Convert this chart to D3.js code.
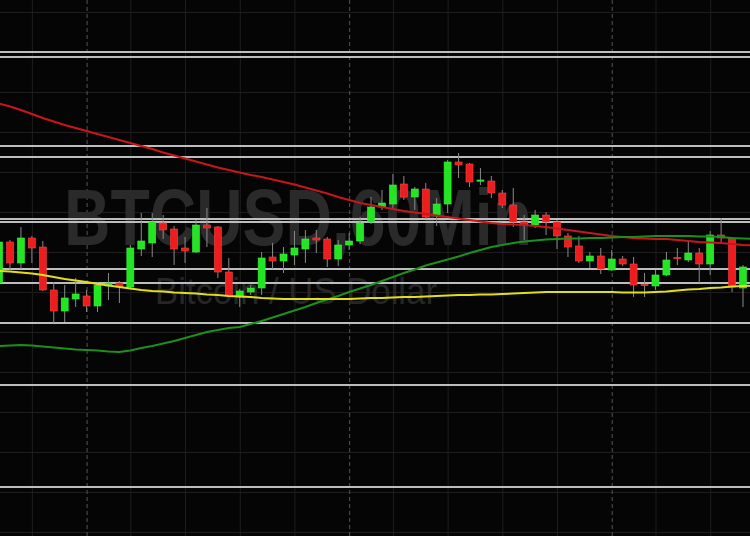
<!DOCTYPE html>
<html><head><meta charset="utf-8">
<script src="https://cdn.jsdelivr.net/npm/d3@7"></script>
<style>html,body{margin:0;padding:0;background:#050505;overflow:hidden}</style>
</head><body><svg id="c" width="750" height="536"></svg>
<script>
// ---- data ----
const startTime = "2020-06-09T16:00:00Z"; // first hourly candle
const opens = [9364.5,9385,9374.5,9387,9382.5,9361,9350.5,9356.5,9358,9353,
 9363,9364.5,9362.5,9381.5,9384.5,9394.5,9391.5,9382,9380,9393.5,
 9392.5,9370,9357.5,9360,9362,9377.5,9375.5,9378.5,9381.5,9387,
 9386.5,9376.5,9383.5,9385.5,9395,9402.5,9404,9414,9407.5,9411.5,
 9398,9404,9425,9424,9415.5,9415.5,9409.5,9403.5,9395,9393.5,
 9398.5,9395,9388,9383,9375.5,9378,9371,9376.5,9374,9363.8,
 9363,9368.5,9377.3,9376,9379.5,9374,9388.5,9387,9362];
const highs = [9386,9386,9392.5,9388,9385.5,9365,9363.5,9367,9361,9365,
 9369.5,9365.5,9383.5,9399.5,9399.5,9398.5,9393,9387.5,9396,9402,
 9393,9377,9361.5,9363.5,9380,9384.5,9382.5,9390.5,9391,9391,
 9387.5,9386,9389.5,9397.5,9407.5,9411,9419,9418,9412.5,9414.5,
 9407,9426,9429.5,9424.5,9422,9418,9411,9412,9398.5,9401,
 9400,9396,9389.5,9388,9380,9382,9381,9378,9377.5,9369.5,
 9371,9380,9382,9385.5,9382,9390.5,9397,9387.5,9373.5];
const lows = [9363,9371,9371.5,9374.5,9360.5,9344.5,9345,9352.5,9350,9350,
 9356,9354.5,9362,9378,9377.5,9386.5,9373.5,9374.5,9379.5,9382.5,
 9367,9357.5,9352.5,9358.5,9358.5,9371.5,9369.5,9373.5,9374.5,9379.5,
 9372.5,9373,9381,9384,9394,9401,9401,9406,9401,9396.5,
 9393,9399.5,9417,9412.5,9413.5,9407,9402,9392.5,9386,9392,
 9388.5,9381.5,9377.5,9374.5,9372,9369,9370.5,9373,9357.5,9357.5,
 9361,9368,9373.5,9375,9364.5,9368.5,9385,9360,9352.5];
const closes = [9385,9374.5,9387,9382,9361,9350.5,9357,9359,9353,9363.5,
 9364.5,9362.5,9382,9385.5,9395,9391,9381.5,9380.5,9393.5,9392,
 9370,9358,9360.5,9362,9377,9375.5,9379,9382,9386.5,9386,
 9376.5,9383.5,9385.5,9394.5,9402.5,9404.5,9413.5,9407.5,9411.5,9397.5,
 9404,9425,9423.5,9415,9416,9409.5,9403.5,9395,9393.5,9398.5,
 9395,9388,9382.5,9375.5,9378,9371.5,9376.5,9374,9363.5,9363.2,
 9368.5,9376,9376.7,9379.5,9374,9388.5,9387,9362.5,9372.5];
// moving averages (one value per hour, last value is the still-forming next hour)
const maSlow = [9454.25,9452.75,9451,9449,9447,9445.25,9443.5,9442,9440.5,9439,
 9437.5,9436,9434.5,9433,9431.5,9429.75,9428.25,9426.75,9425.25,9423.75,
 9422.25,9421,9419.75,9418.5,9417.5,9416.25,9415,9413.75,9412.25,9410.75,
 9409.25,9407.5,9406,9404.5,9403.5,9402.5,9401.5,9400.5,9399.75,9399,
 9398.25,9397.5,9396.75,9396,9395.25,9394.5,9394,9393.75,9393.5,9393,
 9392.5,9391.75,9391,9390.25,9389.5,9388.75,9388,9387.5,9387,9386.75,
 9386.5,9386.5,9386,9385.5,9385,9384.75,9384.5,9384,9383.5,9383.25];
const maMid = [9333,9333.25,9333.5,9333.25,9332.75,9332.25,9331.75,9331.25,9331,9330.75,
 9330.25,9330,9330.75,9332,9333,9334.25,9335.5,9337,9338.5,9340,
 9341,9342,9342.5,9344,9345.5,9347.25,9349,9350.75,9352.5,9354.5,
 9356.25,9358,9360,9361.75,9363.5,9365.5,9367.5,9369.5,9371.25,9373.25,
 9374.75,9376.25,9377.75,9379.5,9381,9382.5,9383.5,9384.5,9385.25,9385.75,
 9386.25,9386.5,9386.75,9386.75,9387,9387,9387.25,9387.5,9387.5,9387.75,
 9388,9388,9388,9388,9387.75,9387.75,9387.5,9387,9386.75,9386.5];
const maFast = [9370.5,9370.25,9369.75,9369.25,9368.5,9367.5,9366.5,9365.75,9365,9364,
 9363.25,9362.5,9361.75,9361,9360.5,9360.25,9359.75,9359.5,9359.25,9358.75,
 9358.5,9358,9357.75,9357.5,9357,9356.75,9356.5,9356.5,9356.5,9356.5,
 9356.5,9356.5,9356.5,9356.75,9357,9357,9357.25,9357.5,9357.5,9357.75,
 9358,9358.25,9358.5,9358.5,9358.75,9358.75,9359,9359.25,9359.5,9359.75,
 9360,9360,9360,9360,9360,9360,9360,9359.75,9359.75,9359.75,
 9360,9360.25,9360.75,9361.25,9361.5,9362,9362.25,9362.75,9363,9363.25];
const levels = [9480,9477.5,9433,9427.5,9396.5,9395,9371.5,9364.5,9344.5,9313.5,9262.5];
const gridPrices = [9240,9260,9280,9300,9320,9340,9360,9380,9400,9420,9440,9460,9480,9500];
const gridHours = [4,9,14,19];
const titleText = "BTCUSD,60Min";
const subtitleText = "Bitcoin / US Dollar";

// ---- build ----
const W = 750, H = 536;
const t0 = new Date(startTime);
const times = maSlow.map((_, i) => d3.utcHour.offset(t0, i));
const candles = opens.map((o, i) => ({t: times[i], o, h: highs[i], l: lows[i], c: closes[i]}));
const hr = 3600e3;
const x = d3.scaleUtc().domain([new Date(+t0 + 0.086*hr), new Date(+t0 + 68.64*hr)]).range([0, W]);
const y = d3.scaleLinear().domain([9506, 9238]).range([0, H]);
const bw = (x(times[1]) - x(times[0])) * 0.64;

const svg = d3.select("#c");
svg.append("rect").attr("width", W).attr("height", H).attr("fill", "#050505");

// faint horizontal grid via axis
const gy = svg.append("g").call(d3.axisLeft(y).tickValues(gridPrices).tickSize(-W).tickFormat(""));
gy.select(".domain").remove();
gy.selectAll("line").attr("stroke", "#1e1e1e").attr("stroke-width", 1);

// faint vertical grid
const hourTicks = d3.utcHour.range(x.domain()[0], x.domain()[1]).filter(d => gridHours.includes(d.getUTCHours()));
const gx = svg.append("g").attr("transform", `translate(0,${H})`)
  .call(d3.axisBottom(x).tickValues(hourTicks).tickSize(-H).tickFormat(""));
gx.select(".domain").remove();
gx.selectAll("line").attr("stroke", "#1e1e1e").attr("stroke-width", 1);

// dashed day separators
const dayTicks = d3.utcDay.range(x.domain()[0], x.domain()[1]);
const gd = svg.append("g").attr("transform", `translate(0,${H})`)
  .call(d3.axisBottom(x).tickValues(dayTicks).tickSize(-H).tickFormat(""));
gd.select(".domain").remove();
gd.selectAll("line").attr("stroke", "#555").attr("stroke-width", 1).attr("stroke-dasharray", "4,3");

// watermark
svg.append("text").text(titleText)
  .attr("x", 64).attr("y", 245)
  .attr("font-family", "Liberation Sans, Arial, sans-serif").attr("font-weight", "bold")
  .attr("font-size", 80).attr("textLength", 468).attr("lengthAdjust", "spacingAndGlyphs")
  .attr("fill", "#2a2a2a");
svg.append("text").text(subtitleText)
  .attr("x", 155).attr("y", 304)
  .attr("font-family", "Liberation Sans, Arial, sans-serif")
  .attr("font-size", 36).attr("textLength", 282).attr("lengthAdjust", "spacingAndGlyphs")
  .attr("fill", "#262626");

// support / resistance levels
svg.append("g").selectAll("line").data(levels).join("line")
  .attr("x1", 0).attr("x2", W)
  .attr("y1", d => y(d)).attr("y2", d => y(d))
  .attr("stroke", "#bdbdbd").attr("stroke-width", 2);

// candles
const cg = svg.append("g");
cg.selectAll("line").data(candles).join("line")
  .attr("x1", d => x(d.t)).attr("x2", d => x(d.t))
  .attr("y1", d => y(d.h)).attr("y2", d => y(d.l))
  .attr("stroke", "#8a8a8a").attr("stroke-width", 1);
cg.selectAll("rect").data(candles).join("rect")
  .attr("x", d => x(d.t) - bw/2).attr("width", bw)
  .attr("y", d => y(Math.max(d.o, d.c)))
  .attr("height", d => Math.max(1.2, Math.abs(y(d.o) - y(d.c))))
  .attr("fill", d => d.c >= d.o ? "#22e622" : "#ee1c1c")
  .attr("stroke", d => d.c >= d.o ? "#3cf03c" : "#f04848").attr("stroke-width", 0.6);

// moving averages
const mkLine = arr => d3.line().x((_, i) => x(times[i])).y(v => y(v))(arr);
svg.append("path").attr("d", mkLine(maSlow)).attr("fill", "none").attr("stroke", "#c8161b").attr("stroke-width", 2);
svg.append("path").attr("d", mkLine(maMid)).attr("fill", "none").attr("stroke", "#1d8f1d").attr("stroke-width", 2);
svg.append("path").attr("d", mkLine(maFast)).attr("fill", "none").attr("stroke", "#e3de1a").attr("stroke-width", 2);
</script></body></html>
